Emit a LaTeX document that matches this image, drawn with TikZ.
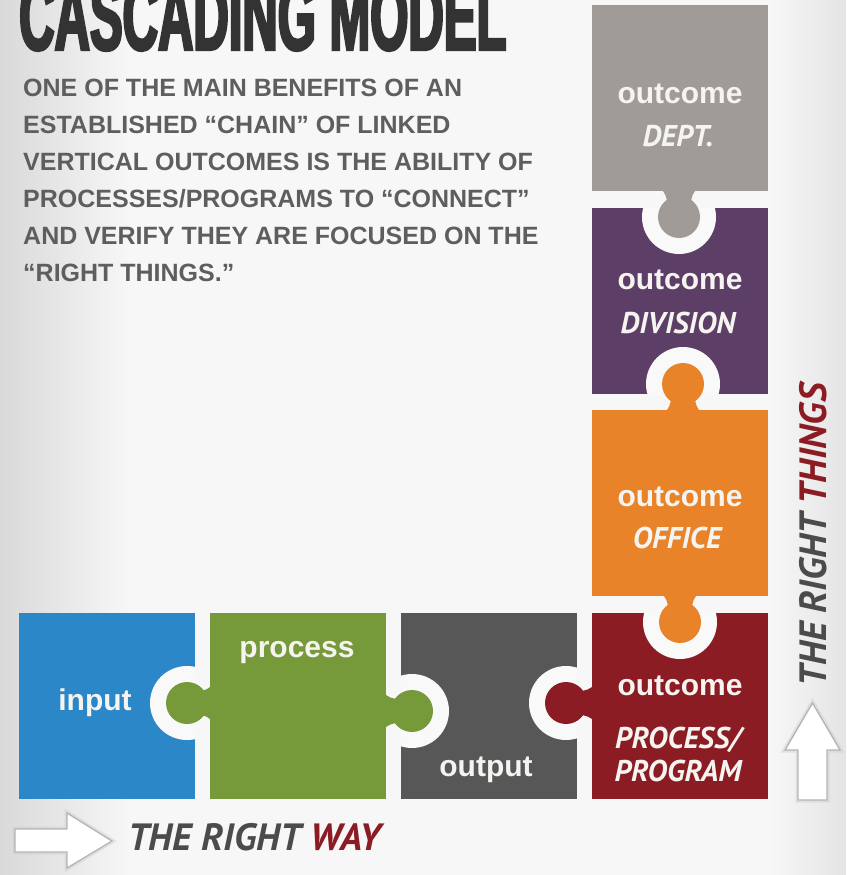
\documentclass[tikz,border=0pt]{standalone}
\usepackage{fontspec}
\setmainfont{Liberation Sans}
\newfontfamily\titlefont{Liberation Sans}[FakeStretch=0.5,FakeBold=2.5]
\newfontfamily\tagfont{PT Sans}
\definecolor{cblue}{HTML}{2B87C8}
\definecolor{cgreen}{HTML}{76993A}
\definecolor{cdark}{HTML}{575757}
\definecolor{cred}{HTML}{8B1C24}
\definecolor{corange}{HTML}{E8832A}
\definecolor{cpurple}{HTML}{5C3E66}
\definecolor{cstone}{HTML}{A09B97}
\definecolor{ink}{HTML}{4B4B4B}
\definecolor{para}{HTML}{5E5E5E}
\definecolor{titleink}{HTML}{333333}
\definecolor{paper}{HTML}{F7F7F7}
\definecolor{bgedge}{HTML}{D9D9D9}
\definecolor{bgedgeright}{HTML}{E4E4E4}
\definecolor{gapwhite}{HTML}{F9F9F9}
\definecolor{labelwhite}{HTML}{F6F4F0}
\definecolor{arrowline}{HTML}{B4B4B4}

% horizontal tab: centre (#1,#2), own edge at x=#3, colour #4, cut into node #5
\newcommand\hknob[5]{%
  \begin{scope}
    \clip (#5.north west) rectangle (#5.south east);
    \fill[gapwhite] (#1,#2) circle[radius=37];
  \end{scope}
  \fill[#4] (#1,#2) circle[radius=21];
  \fill[#4] (#3,{#2-16}) .. controls ({#3+0.2*(#1-#3)},{#2-12}) and ({#3+0.4*(#1-#3)},{#2-12})
        .. ({#3+0.6*(#1-#3)},{#2-12}) -- (#1,{#2-12}) -- (#1,{#2+12})
        -- ({#3+0.6*(#1-#3)},{#2+12}) .. controls ({#3+0.4*(#1-#3)},{#2+12}) and ({#3+0.2*(#1-#3)},{#2+12})
        .. (#3,{#2+16}) -- cycle;
}
% vertical tab: centre (#1,#2), own edge at y=#3
\newcommand\vknob[5]{%
  \begin{scope}
    \clip (#5.north west) rectangle (#5.south east);
    \fill[gapwhite] (#1,#2) circle[radius=37];
  \end{scope}
  \fill[#4] (#1,#2) circle[radius=21];
  \fill[#4] ({#1-16},#3) .. controls ({#1-12},{#3+0.2*(#2-#3)}) and ({#1-12},{#3+0.4*(#2-#3)})
        .. ({#1-12},{#3+0.6*(#2-#3)}) -- ({#1-12},#2) -- ({#1+12},#2)
        -- ({#1+12},{#3+0.6*(#2-#3)}) .. controls ({#1+12},{#3+0.4*(#2-#3)}) and ({#1+12},{#3+0.2*(#2-#3)})
        .. ({#1+16},#3) -- cycle;
}

\begin{document}
\begin{tikzpicture}[x=1pt,y=-1pt,
  piece/.style={minimum width=176pt, minimum height=186pt, inner sep=0pt, outer sep=0pt, draw=none},
  lbl/.style={text=labelwhite, font=\fontsize{30}{30}\selectfont\bfseries, anchor=base, inner sep=0pt},
  tag/.style={text=labelwhite, font=\tagfont\fontsize{30}{30}\selectfont\bfseries\itshape, anchor=base, inner sep=0pt},
  bodyline/.style={text=para, font=\fontsize{25}{25}\selectfont\bfseries, anchor=base west, inner sep=0pt},
  arrowshape/.style={fill=white, draw=arrowline, line width=1.3pt, line join=miter},
  arrowhalo/.style={draw=black!20, line width=5pt, opacity=0.45, line join=miter}]

% paper
\fill[paper] (0,0) rectangle (846,875);
\shade[left color=bgedge, right color=paper] (0,0) rectangle (130,875);
\shade[left color=paper, right color=bgedgeright] (770,0) rectangle (846,875);
\useasboundingbox (0,0) rectangle (846,875);

% heading and text block
\node[anchor=base west, inner sep=0pt, text=titleink,
      font=\titlefont\fontsize{98}{98}\selectfont\bfseries] (title) at (19,50) {CASCADING MODEL};
\node[bodyline] (l1) at (23,96)  {ONE OF THE MAIN BENEFITS OF AN};
\node[bodyline] (l2) at (23,133) {ESTABLISHED “CHAIN” OF LINKED};
\node[bodyline] (l3) at (23,170) {VERTICAL OUTCOMES IS THE ABILITY OF};
\node[bodyline] (l4) at (23,207) {PROCESSES/PROGRAMS TO “CONNECT”};
\node[bodyline] (l5) at (23,244) {AND VERIFY THEY ARE FOCUSED ON THE};
\node[bodyline] (l6) at (23,281) {“RIGHT THINGS.”};

% puzzle pieces
\node[piece, fill=cblue]   (input)    at (107,706) {};
\node[piece, fill=cgreen]  (process)  at (298,706) {};
\node[piece, fill=cdark]   (output)   at (489,706) {};
\node[piece, fill=cred]    (program)  at (680,706) {};
\node[piece, fill=corange] (office)   at (680,503) {};
\node[piece, fill=cpurple] (division) at (680,301) {};
\node[piece, fill=cstone]  (dept)     at (680,98)  {};

% interlocking tabs
\hknob{187}{703}{210}{cgreen}{input}
\hknob{412}{711}{386}{cgreen}{output}
\hknob{566}{703}{592}{cred}{output}
\vknob{680}{622}{596}{corange}{program}
\vknob{683}{384}{410}{corange}{division}
\vknob{679}{217}{191}{cstone}{division}

% piece labels
\node[lbl] (tinput)   at (95,710)  {input};
\node[lbl] (tprocess) at (297,657) {process};
\node[lbl] (toutput)  at (486,776) {output};
\node[lbl] (tprog)    at (680,695) {outcome};
\node[tag] (tprog2)   at (678,748) {PROCESS/};
\node[tag] (tprog3)   at (678,781) {PROGRAM};
\node[lbl] (toffice)  at (680,506) {outcome};
\node[tag] (toffice2) at (677,548) {OFFICE};
\node[lbl] (tdiv)     at (680,289) {outcome};
\node[tag] (tdiv2)    at (678,333) {DIVISION};
\node[lbl] (tdept)    at (680,103) {outcome};
\node[tag] (tdept2)   at (678,146) {DEPT.};

% direction arrows
\path[arrowhalo] (15,829) -- (67,829) -- (67,813) -- (112,841) -- (67,868) -- (67,852) -- (15,852) -- cycle;
\path[arrowshape] (15,829) -- (67,829) -- (67,813) -- (112,841) -- (67,868) -- (67,852) -- (15,852) -- cycle;
\path[arrowhalo] (798,800) -- (798,750) -- (785,750) -- (812.5,703) -- (840,750) -- (827,750) -- (827,800) -- cycle;
\path[arrowshape] (798,800) -- (798,750) -- (785,750) -- (812.5,703) -- (840,750) -- (827,750) -- (827,800) -- cycle;

\node[anchor=base west, inner sep=0pt, font=\tagfont\fontsize{38}{38}\selectfont\bfseries\itshape] (way)
  at (128,850) {\textcolor{ink}{THE RIGHT} \textcolor{cred}{WAY}};
\node[rotate=90, anchor=base, inner sep=0pt, font=\tagfont\fontsize{38}{38}\selectfont\bfseries\itshape] (things)
  at (826,535) {\textcolor{ink}{THE RIGHT} \textcolor{cred}{THINGS}};
\end{tikzpicture}
\end{document}
